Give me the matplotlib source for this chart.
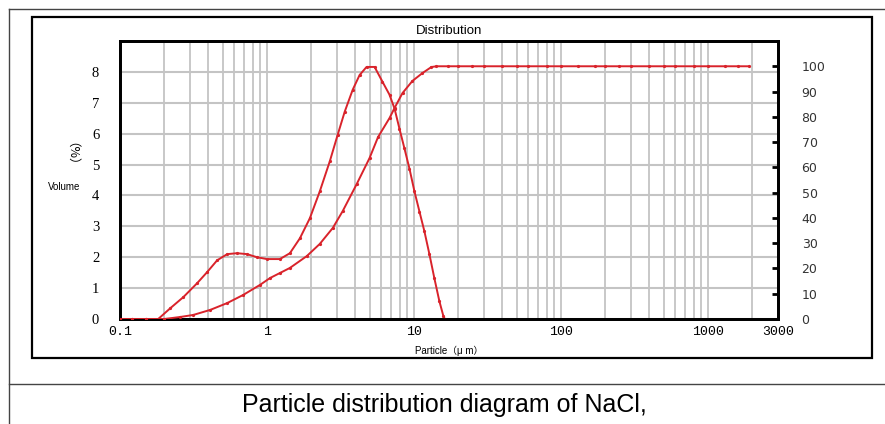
import numpy as np
import matplotlib.pyplot as plt
from matplotlib.lines import Line2D
from matplotlib.patches import Rectangle
from matplotlib.ticker import FixedLocator, LogLocator, NullFormatter

# ---------------------------- data ----------------------------
# frequency curve (left axis, volume %)
freq_size = [0.1, 0.12, 0.15, 0.182, 0.22, 0.27, 0.335, 0.392, 0.458, 0.536, 0.626,
             0.732, 0.855, 1.0, 1.225, 1.432, 1.674, 1.957, 2.287, 2.674, 3.03, 3.38,
             3.83, 4.27, 4.76, 5.40, 6.11, 6.82, 7.38, 7.97, 8.62, 9.32, 10.08, 10.9,
             11.78, 12.74, 13.77, 14.89, 15.85, 16.2]
freq_vol = [0, 0, 0, 0, 0.35, 0.71, 1.16, 1.52, 1.90, 2.10, 2.13,
            2.10, 2.0, 1.94, 1.94, 2.13, 2.61, 3.26, 4.13, 5.10, 5.97, 6.71,
            7.42, 7.9, 8.16, 8.16, 7.68, 7.26, 6.81, 6.16, 5.52, 4.87, 4.13, 3.48,
            2.84, 2.10, 1.32, 0.58, 0.1, 0]

# cumulative curve (right axis, %)
cum_size = [0.1, 0.12, 0.15, 0.2, 0.257, 0.315, 0.411, 0.536, 0.688, 0.897, 1.048,
            1.225, 1.432, 1.867, 2.287, 2.803, 3.276, 4.08, 4.99, 5.7, 6.82, 7.38,
            8.36, 9.77, 11.42, 13.14, 14.21, 17, 20, 25, 30, 40, 50, 60, 80, 100,
            130, 170, 200, 250, 300, 400, 500, 600, 800, 1000, 1300, 1600, 1900]
cum_vol = [0, 0, 0, 0, 0.8, 1.6, 3.6, 6.3, 9.5, 13.5, 16.2,
           18.2, 20.2, 24.9, 29.7, 36, 42.7, 53.4, 63.7, 72, 79.5, 83.5,
           89.4, 94.2, 97.3, 99.7, 100, 100, 100, 100, 100, 100, 100, 100, 100, 100,
           100, 100, 100, 100, 100, 100, 100, 100, 100, 100, 100, 100, 100]

x_ticks = [0.1, 1, 10, 100, 1000, 3000]
x_labels = ['0.1', '1', '10', '100', '1000', '3000']
left_ticks = [0, 1, 2, 3, 4, 5, 6, 7, 8]
right_ticks = [0, 10, 20, 30, 40, 50, 60, 70, 80, 90, 100]

red = '#d9232b'
W, H = 885, 424

fig = plt.figure(figsize=(W / 100, H / 100), dpi=100)

def fx(px):
    return px / W

def fy(py):
    return 1 - py / H

# --------------------------- frames around the chart ---------------------------
for xs, ys in [((9, 885), (9, 9)), ((9, 9), (9, 424)), ((9, 885), (384, 384))]:
    fig.add_artist(Line2D([fx(xs[0]), fx(xs[1])], [fy(ys[0]), fy(ys[1])],
                          color='#444444', lw=1.0))
fig.add_artist(Rectangle((fx(32), fy(358)), fx(872) - fx(32), fy(17) - fy(358),
                         fill=False, ec='black', lw=1.6))

# ------------------------------- main axes -------------------------------------
ax = fig.add_axes([fx(120), fy(319), fx(778) - fx(120), fy(41) - fy(319)])
ax.set_xscale('log')
ax.set_xlim(0.1, 3000)
ax.set_ylim(0, 9)

ax.plot(freq_size, freq_vol, color=red, lw=1.4, marker='o', ms=1.3, zorder=3)

ax.xaxis.set_major_locator(FixedLocator(x_ticks))
ax.set_xticklabels(x_labels, family='Liberation Mono', fontsize=9.5)
ax.xaxis.set_minor_locator(LogLocator(base=10, subs=np.arange(2, 10)))
ax.xaxis.set_minor_formatter(NullFormatter())
ax.tick_params(axis='x', which='both', length=0, pad=5)

ax.set_yticks(left_ticks)
ax.set_yticklabels([str(v) for v in left_ticks], family='Liberation Serif', fontsize=10.5)
ax.tick_params(axis='y', length=0, pad=15)

ax.grid(True, which='both', axis='x', color='#c4c4c4', lw=1.3)
ax.grid(True, which='major', axis='y', color='#c4c4c4', lw=1.5)
ax.set_axisbelow(True)
for s in ax.spines.values():
    s.set_linewidth(2.0)
    s.set_color('black')

# right axis: cumulative
ax2 = ax.twinx()
ax2.set_ylim(0, 110)
ax2.plot(cum_size, cum_vol, color=red, lw=1.4, marker='o', ms=1.3, zorder=3)
ax2.set_yticks(right_ticks)
ax2.set_yticklabels([str(v) for v in right_ticks], family='DejaVu Sans', fontsize=9,
                    color='#333333')
ax2.tick_params(axis='y', direction='in', length=4, width=2, pad=17)
for s in ax2.spines.values():
    s.set_linewidth(2.0)

# ------------------------------- texts ----------------------------------------
fig.text(fx(449), fy(31), 'Distribution', ha='center', va='center',
         family='Liberation Sans', fontsize=9.5)
fig.text(fx(449), fy(351), 'Particle（μ m）', ha='center', va='center',
         family=['Liberation Sans', 'Noto Sans CJK SC'], fontsize=7)
fig.text(fx(64), fy(187), 'Volume', ha='center', va='center',
         family='Liberation Sans', fontsize=7)
fig.text(fx(65), fy(160), '（%）', ha='center', va='center', rotation=-90,
         family=['Noto Sans CJK SC', 'DejaVu Sans'], fontsize=9)
fig.text(fx(444), fy(405), 'Particle distribution diagram of NaCl,', ha='center',
         va='center', family='Liberation Sans', fontsize=18)

fig.savefig('out.png', dpi=100)
